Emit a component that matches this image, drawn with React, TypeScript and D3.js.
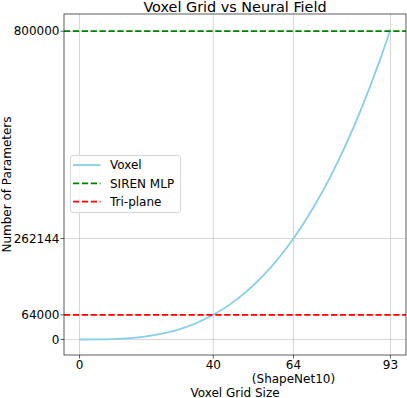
import React, { useEffect, useRef } from "react";
import * as d3 from "d3";

// voxel grid size vs parameter count
const gridSizes = [0, 5, 10, 15, 20, 25, 30, 35, 40, 45, 50, 55, 60, 64, 70, 75, 80, 85, 90, 93];
const voxelParams = [
  0, 125, 1000, 3375, 8000, 15625, 27000, 42875, 64000, 91125, 125000, 166375, 216000,
  262144, 343000, 421875, 512000, 614125, 729000, 804357,
];
const sirenParams = 800000;
const triplaneParams = 64000;

const xTicks = [0, 40, 64, 93];
const xTickLabels = ["0", "40", "64\n(ShapeNet10)", "93"];
const yTicks = [0, 64000, 262144, 800000];

const dash = "6.2,2.7";
const legendItems = [
  { name: "Voxel", color: "#87CEEB", dash: null },
  { name: "SIREN MLP", color: "green", dash: dash },
  { name: "Tri-plane", color: "red", dash: dash },
];

const W = 407;
const H = 398;
const FS = 12;

const App = () => {
  const ref = useRef<SVGSVGElement>(null);

  useEffect(() => {
    const svg = d3.select(ref.current);
    svg.selectAll("*").remove();

    const left = 64;
    const right = 406;
    const top = 14;
    const bottom = 355;

    const xMax = d3.max(gridSizes)!;
    const yMax = d3.max(voxelParams)!;
    const x = d3.scaleLinear().domain([-xMax * 0.05, xMax * 1.05]).range([left, right]);
    const y = d3.scaleLinear().domain([-yMax * 0.05, yMax * 1.05]).range([bottom, top]);

    svg.attr("width", W).attr("height", H).style("font-family", "DejaVu Sans, sans-serif");

    const defs = svg.append("defs");
    defs.append("clipPath").attr("id", "plot-clip")
      .append("rect").attr("x", left).attr("y", top).attr("width", right - left).attr("height", bottom - top);

    // grid
    const grid = svg.append("g").attr("stroke", "#b0b0b0").attr("stroke-opacity", 0.5).attr("stroke-width", 1);
    grid.selectAll("line.v").data(xTicks).join("line").attr("class", "v")
      .attr("x1", d => x(d)).attr("x2", d => x(d)).attr("y1", top).attr("y2", bottom);
    grid.selectAll("line.h").data(yTicks).join("line").attr("class", "h")
      .attr("x1", left).attr("x2", right).attr("y1", d => y(d)).attr("y2", d => y(d));

    const plot = svg.append("g").attr("clip-path", "url(#plot-clip)");

    // voxel curve
    const line = d3.line<number>()
      .x((_, i) => x(gridSizes[i]))
      .y(d => y(d))
      .curve(d3.curveMonotoneX);
    plot.append("path").datum(voxelParams)
      .attr("fill", "none").attr("stroke", "#87CEEB").attr("stroke-width", 1.8)
      .attr("d", line);

    // reference lines
    plot.append("line")
      .attr("x1", left).attr("x2", right).attr("y1", y(sirenParams)).attr("y2", y(sirenParams))
      .attr("stroke", "green").attr("stroke-width", 1.8).attr("stroke-dasharray", dash);
    plot.append("line")
      .attr("x1", left).attr("x2", right).attr("y1", y(triplaneParams)).attr("y2", y(triplaneParams))
      .attr("stroke", "red").attr("stroke-width", 1.8).attr("stroke-dasharray", dash);

    // spines
    svg.append("rect")
      .attr("x", left).attr("y", top).attr("width", right - left).attr("height", bottom - top)
      .attr("fill", "none").attr("stroke", "#333").attr("stroke-width", 0.8);

    // x ticks
    const xt = svg.append("g").selectAll("g").data(xTicks).join("g")
      .attr("transform", d => `translate(${x(d)},${bottom})`);
    xt.append("line").attr("y2", 3.5).attr("stroke", "#333").attr("stroke-width", 0.8);
    xt.append("text")
      .attr("text-anchor", "middle").attr("font-size", FS).attr("fill", "#000")
      .selectAll("tspan")
      .data((_, i) => xTickLabels[i].split("\n"))
      .join("tspan")
      .attr("x", 0)
      .attr("y", (_, j) => 13.8 + j * 13.8)
      .text(d => d);

    // y ticks
    const yt = svg.append("g").selectAll("g").data(yTicks).join("g")
      .attr("transform", d => `translate(${left},${y(d)})`);
    yt.append("line").attr("x2", -3.5).attr("stroke", "#333").attr("stroke-width", 0.8);
    yt.append("text")
      .attr("x", -4.5).attr("dy", "0.35em").attr("text-anchor", "end")
      .attr("font-size", FS).attr("fill", "#000")
      .text(d => String(d));

    // labels
    svg.append("text")
      .attr("x", (left + right) / 2).attr("y", 12)
      .attr("text-anchor", "middle").attr("font-size", 14.4)
      .text("Voxel Grid vs Neural Field");
    svg.append("text")
      .attr("x", (left + right) / 2).attr("y", 396.5)
      .attr("text-anchor", "middle").attr("font-size", FS)
      .text("Voxel Grid Size");
    svg.append("text")
      .attr("transform", `translate(10.5,${(top + bottom) / 2}) rotate(-90)`)
      .attr("text-anchor", "middle").attr("font-size", FS)
      .text("Number of Parameters");

    // legend
    const lg = svg.append("g").attr("transform", "translate(70.5,155.5)");
    lg.append("rect")
      .attr("width", 110).attr("height", 57).attr("rx", 2.5)
      .attr("fill", "white").attr("fill-opacity", 0.8)
      .attr("stroke", "#cccccc").attr("stroke-width", 0.8);
    const li = lg.selectAll("g").data(legendItems).join("g")
      .attr("transform", (_, i) => `translate(0,${9.5 + i * 18.3})`);
    li.append("line")
      .attr("x1", 2.5).attr("x2", 30).attr("stroke", d => d.color).attr("stroke-width", 1.8)
      .attr("stroke-dasharray", d => d.dash);
    li.append("text")
      .attr("x", 39.5).attr("dy", "0.35em").attr("font-size", FS).text(d => d.name);
  }, []);

  return <svg ref={ref} style={{ position: "absolute", left: 0, top: 0 }}></svg>;
};

export default App;
